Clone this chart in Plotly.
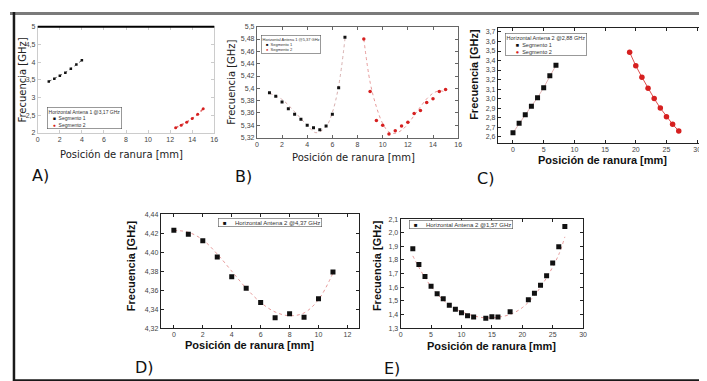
import plotly.graph_objects as go

W, H = 707, 381

# ---------------- data ----------------
# Panel A
a_seg1_x = [1, 1.5, 2, 2.5, 3, 3.5, 4]
a_seg1_y = [3.45, 3.53, 3.61, 3.70, 3.81, 3.93, 4.05]
a_seg2_x = [12.5, 13, 13.5, 14, 14.5, 15]
a_seg2_y = [2.14, 2.21, 2.30, 2.40, 2.52, 2.68]

# Panel B
b_seg1_x = [1, 1.5, 2, 2.5, 3, 3.5, 4, 4.5, 5, 5.5, 6, 6.5, 7]
b_seg1_y = [5.393, 5.387, 5.378, 5.367, 5.358, 5.350, 5.340, 5.336, 5.333, 5.339, 5.358, 5.401, 5.483]
b_seg2_x = [8.5, 9, 9.5, 10, 10.5, 11, 11.5, 12, 12.5, 13, 13.5, 14, 14.5, 15]
b_seg2_y = [5.480, 5.395, 5.348, 5.340, 5.326, 5.331, 5.339, 5.345, 5.359, 5.364, 5.377, 5.383, 5.395, 5.398]
b_fit1_x = [1, 2, 3, 4, 4.7, 5.5, 6, 6.5, 7]
b_fit1_y = [5.392, 5.382, 5.362, 5.340, 5.328, 5.338, 5.361, 5.404, 5.48]
b_fit2_x = [8.5, 9, 9.5, 10, 10.5, 11, 11.5, 12, 12.5, 13, 13.5, 14, 14.5, 15]
b_fit2_y = [5.48, 5.41, 5.37, 5.343, 5.329, 5.327, 5.332, 5.342, 5.356, 5.37, 5.383, 5.392, 5.396, 5.394]

# Panel C
c_seg1_x = [0, 1, 2, 3, 4, 5, 6, 7]
c_seg1_y = [2.64, 2.74, 2.83, 2.92, 3.01, 3.115, 3.24, 3.35]
c_seg2_x = [19, 20, 21, 22, 23, 24, 25, 26, 27]
c_seg2_y = [3.487, 3.346, 3.225, 3.108, 3.0, 2.90, 2.81, 2.73, 2.66]

# Panel D
d_x = [0, 1, 2, 3, 4, 5, 6, 7, 8, 9, 10, 11]
d_y = [4.423, 4.419, 4.412, 4.395, 4.374, 4.362, 4.347, 4.331, 4.335, 4.3315, 4.351, 4.379]
d_fit_x = [0, 1, 2, 3, 4, 5, 6, 7, 8, 9, 10, 11]
d_fit_y = [4.423, 4.421, 4.413, 4.398, 4.380, 4.362, 4.347, 4.337, 4.333, 4.336, 4.350, 4.378]

# Panel E
e_x = [2, 3, 4, 5, 6, 7, 8, 9, 10, 11, 12, 14, 15, 16, 18, 21, 22, 23, 24, 25, 26, 27]
e_y = [1.883, 1.767, 1.678, 1.608, 1.552, 1.515, 1.468, 1.438, 1.412, 1.391, 1.382, 1.373,
       1.384, 1.382, 1.419, 1.508, 1.555, 1.615, 1.685, 1.778, 1.897, 2.045]
e_fit_x = [2, 4, 6, 8, 10, 12, 14, 16, 18, 20, 22, 24, 26, 27]
e_fit_y = [1.83, 1.67, 1.55, 1.47, 1.42, 1.39, 1.375, 1.38, 1.40, 1.45, 1.54, 1.67, 1.84, 1.97]

legend_titles = ["Horizontal Antena 1 @3,17 GHz", "Horizontal Antena 1 @5,37 GHz",
                 "Horizontal Antena 2 @2,88 GHz", "Horizontal Antena 2 @4,37 GHz",
                 "Horizontal Antena 2 @1,57 GHz"]
seg_names = ["Segmento 1", "Segmento 2"]
x_title = "Posición de ranura [mm]"
y_title = "Frecuencia [GHz]"
panel_labels = ["A)", "B)", "C)", "D)", "E)"]

RED = "#d62020"
FITRED = "#e08080"

def dx(a, b):
    return [a / W, b / W]

def dy(top, bottom):
    return [1 - bottom / H, 1 - top / H]

def px(x):
    return x / W

def py(y):
    return 1 - y / H

fig = go.Figure()

# ---- A
fig.add_trace(go.Scatter(x=a_seg1_x, y=a_seg1_y, mode="lines+markers", name=seg_names[0],
                         line=dict(color="#333", width=0.8, dash="dot"),
                         marker=dict(symbol="square", size=2.5, color="#111"), xaxis="x", yaxis="y",
                         showlegend=False))
fig.add_trace(go.Scatter(x=a_seg2_x, y=a_seg2_y, mode="lines+markers", name=seg_names[1],
                         line=dict(color="#e06060", width=1.5, dash="dot"),
                         marker=dict(symbol="circle", size=3, color=RED), xaxis="x", yaxis="y",
                         showlegend=False))
# ---- B
fig.add_trace(go.Scatter(x=b_fit1_x, y=b_fit1_y, mode="lines", line=dict(color="#c99", width=0.8, dash="dot", shape="spline"),
                         xaxis="x2", yaxis="y2", showlegend=False, hoverinfo="skip"))
fig.add_trace(go.Scatter(x=b_fit2_x, y=b_fit2_y, mode="lines", line=dict(color=FITRED, width=0.8, dash="dot", shape="spline"),
                         xaxis="x2", yaxis="y2", showlegend=False, hoverinfo="skip"))
fig.add_trace(go.Scatter(x=b_seg1_x, y=b_seg1_y, mode="markers", name=seg_names[0],
                         marker=dict(symbol="square", size=3, color="#111"), xaxis="x2", yaxis="y2",
                         showlegend=False))
fig.add_trace(go.Scatter(x=b_seg2_x, y=b_seg2_y, mode="markers", name=seg_names[1],
                         marker=dict(symbol="circle", size=3.5, color=RED), xaxis="x2", yaxis="y2",
                         showlegend=False))
# ---- C
fig.add_trace(go.Scatter(x=c_seg1_x, y=c_seg1_y, mode="lines+markers", name=seg_names[0],
                         line=dict(color="#d9a0a0", width=0.8),
                         marker=dict(symbol="square", size=5, color="#111"), xaxis="x3", yaxis="y3",
                         showlegend=False))
fig.add_trace(go.Scatter(x=c_seg2_x, y=c_seg2_y, mode="lines+markers", name=seg_names[1],
                         line=dict(color=RED, width=0.8),
                         marker=dict(symbol="circle", size=5.5, color=RED), xaxis="x3", yaxis="y3",
                         showlegend=False))
# ---- D
fig.add_trace(go.Scatter(x=d_fit_x, y=d_fit_y, mode="lines", line=dict(color=FITRED, width=0.8, dash="dot", shape="spline"),
                         xaxis="x4", yaxis="y4", showlegend=False, hoverinfo="skip"))
fig.add_trace(go.Scatter(x=d_x, y=d_y, mode="markers", name=legend_titles[3],
                         marker=dict(symbol="square", size=5, color="#111"), xaxis="x4", yaxis="y4",
                         showlegend=False))
# ---- E
fig.add_trace(go.Scatter(x=e_fit_x, y=e_fit_y, mode="lines", line=dict(color=FITRED, width=0.8, dash="dot", shape="spline"),
                         xaxis="x5", yaxis="y5", showlegend=False, hoverinfo="skip"))
fig.add_trace(go.Scatter(x=e_x, y=e_y, mode="markers", name=legend_titles[4],
                         marker=dict(symbol="square", size=5, color="#111"), xaxis="x5", yaxis="y5",
                         showlegend=False))

tickfont = dict(family="Liberation Sans, Arial", size=7, color="#444")

def ax(domain, rng, dtick, anchor, linecolor="#222", fmt=None):
    d = dict(domain=domain, range=rng, dtick=dtick, anchor=anchor, showgrid=False, zeroline=False,
             showline=True, linecolor=linecolor, linewidth=1, mirror="ticks", ticks="inside",
             ticklen=3, tickcolor=linecolor, tickfont=tickfont)
    if fmt:
        d["tickformat"] = fmt
    return d

layout = dict(
    width=W, height=H, margin=dict(l=0, r=0, t=0, b=0),
    paper_bgcolor="white", plot_bgcolor="white", separators=",.", showlegend=False,
    xaxis=ax(dx(28, 206), [0, 16], 2, "y", linecolor="#ccc"),
    yaxis=ax(dy(15, 123), [2, 5], 0.5, "x", linecolor="#ccc"),
    xaxis2=ax(dx(249, 452), [0, 16], 2, "y2", linecolor="#666"),
    yaxis2=ax(dy(15, 128), [5.32, 5.5], 0.02, "x2", linecolor="#666"),
    xaxis3=ax(dx(492, 698), [-2.47, 30.8], 5, "y3"),
    yaxis3=ax(dy(16, 133), [2.538, 3.745], 0.1, "x3", fmt=".1f"),
    xaxis4=ax(dx(152, 352), [-0.91, 12.8], 2, "y4"),
    yaxis4=ax(dy(206, 322), [4.32, 4.44], 0.02, "x4", fmt=".2f"),
    xaxis5=ax(dx(394, 578), [0, 30], 5, "y5"),
    yaxis5=ax(dy(211, 322), [1.3, 2.1], 0.1, "x5", fmt=".1f"),
)
fig.update_layout(**layout)

shapes = [
    # outer frame
    dict(type="rect", xref="paper", yref="paper", x0=0, x1=px(703), y0=py(3), y1=1,
         fillcolor="#7a7a7a", line=dict(width=0), layer="above"),
    dict(type="line", xref="paper", yref="paper", x0=px(4), x1=px(4), y0=py(376), y1=1,
         line=dict(color="#1a1a1a", width=2.5)),
    dict(type="line", xref="paper", yref="paper", x0=px(701), x1=px(701), y0=py(376), y1=1,
         line=dict(color="#1a1a1a", width=2.5)),
    dict(type="line", xref="paper", yref="paper", x0=px(3), x1=px(702), y0=py(375.5), y1=py(375.5),
         line=dict(color="#1a1a1a", width=2.5)),
    # thick top line of panel A
    dict(type="line", xref="x domain", yref="y domain", x0=0, x1=1, y0=1, y1=1,
         line=dict(color="#000", width=2)),
]
fig.update_layout(shapes=shapes)

ann = []
ttl_light = dict(family="DejaVu Sans", size=10, color="#222")
ttl_bold = dict(family="Liberation Sans, Arial", size=11, color="#111")

def t(text, x, y, font, angle=0, bold=False):
    ann.append(dict(text=("<b>%s</b>" % text) if bold else text, x=px(x), y=py(y), xref="paper", yref="paper",
                    showarrow=False, font=font, textangle=angle, xanchor="center", yanchor="middle"))

# axis titles
t(y_title, 13, 69, ttl_light, -90)
t(x_title, 112, 145, ttl_light)
t(y_title, 224, 72, ttl_light, -90)
t(x_title, 346, 148, ttl_light)
t(y_title, 468, 64, ttl_bold, -90, True)
t(x_title, 598, 151, ttl_bold, 0, True)
t(y_title, 122, 258, ttl_bold, -90, True)
t(x_title, 242, 339, ttl_bold, 0, True)
t(y_title, 370, 258, ttl_bold, -90, True)
t(x_title, 486, 340, ttl_bold, 0, True)

# panel labels
lab_font = dict(family="DejaVu Sans", size=16, color="#111")
for lab, (x, y) in zip(panel_labels, [(31, 167), (236, 168), (480, 170), (136, 362), (385, 363)]):
    t(lab, x, y, lab_font)

# legends (boxed text)
def legend_box(x, y, size, lines):
    ann.append(dict(text="<br>".join(lines), x=px(x), y=py(y), xref="paper", yref="paper",
                    showarrow=False, align="left", xanchor="left", yanchor="top",
                    font=dict(family="Liberation Sans, Arial", size=size, color="#333"),
                    bordercolor="#555", borderwidth=0.6, borderpad=1, bgcolor="white"))

sq = "<span style='color:#111'>■</span>"
ci = "<span style='color:%s'>●</span>" % RED
legend_box(37, 97, 5, [legend_titles[0], "   %s  %s" % (sq, seg_names[0]), "   %s  %s" % (ci, seg_names[1])])
legend_box(253, 23, 4, [legend_titles[1], "   %s  %s" % (sq, seg_names[0]), "   %s  %s" % (ci, seg_names[1])])
legend_box(499, 21, 5.5, [legend_titles[2], "      %s  %s" % (sq, seg_names[0]), "      %s  %s" % (ci, seg_names[1])])
legend_box(210, 210, 6, ["  %s     %s" % (sq, legend_titles[3])])
legend_box(402, 212, 6, ["  %s     %s" % (sq, legend_titles[4])])

fig.update_layout(annotations=ann)
fig.write_html("out.html")
